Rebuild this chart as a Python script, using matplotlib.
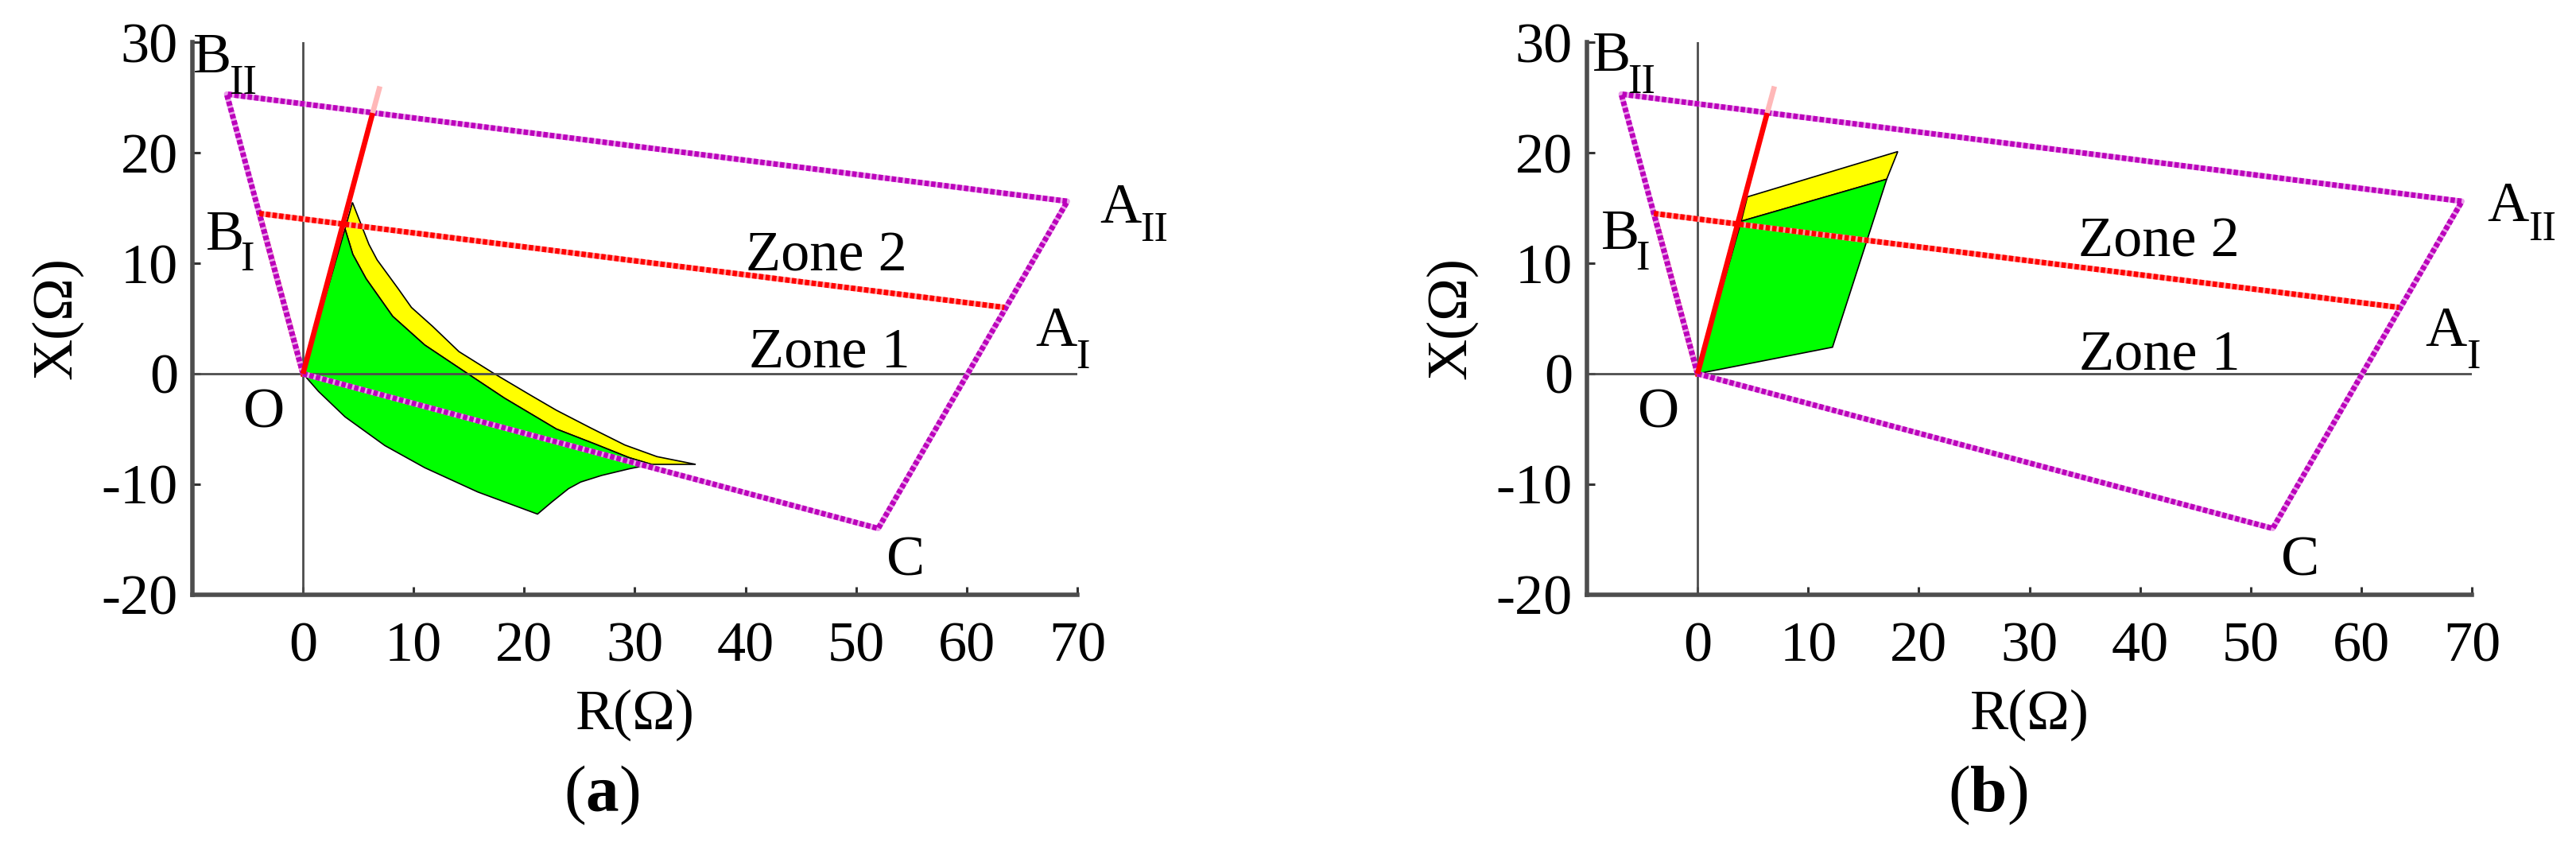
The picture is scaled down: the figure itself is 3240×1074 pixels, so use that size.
import matplotlib
matplotlib.use("Agg")
import matplotlib.pyplot as plt

plt.rcParams['font.family'] = ['Liberation Serif', 'DejaVu Serif']
plt.rcParams['mathtext.fontset'] = 'custom'
plt.rcParams['mathtext.rm'] = 'Liberation Serif'
plt.rcParams['mathtext.bf'] = 'Liberation Serif:bold'
plt.rcParams['axes.unicode_minus'] = False

# protection characteristic corners (R, X in ohm)
boundary_r = [0, 52.0, 69.1, -6.9, 0]
boundary_x = [0, -14.0, 15.6, 25.3, 0]
zone1_r = [-3.95, 63.4]
zone1_x = [14.5, 6.0]
zone1_left_r = [0, -3.95]
zone1_left_x = [0, 14.5]
reach_r = [0, 6.3]
reach_x = [0, 23.6]
reach_ext_r = [6.3, 6.95]
reach_ext_x = [23.6, 26.0]

# panel (a) trajectory regions
yellow_a_r = [4.47, 5.96, 6.7, 8.6, 9.8, 11.7, 14.1, 17.2, 20.5, 22.9, 26.0, 29.1, 32.0, 35.5,
              31.5, 29.5, 26.5, 22.9, 18.2, 14.8, 11.0, 8.1, 5.7, 4.5, 3.8]
yellow_a_x = [15.5, 11.7, 10.3, 7.7, 6.0, 4.3, 2.0, 0.06, -1.9, -3.3, -4.9, -6.45, -7.5, -8.2,
              -8.2, -7.6, -6.4, -5.0, -2.2, 0.06, 2.6, 5.2, 8.6, 10.8, 13.1]
green_a_r = [0, 3.8, 4.5, 5.7, 8.1, 11.0, 14.8, 18.2, 22.9, 26.5, 29.5, 31.5,
             29.5, 27.0, 25.1, 24.0, 22.5, 21.2, 15.8, 11.0, 7.4, 3.8, 1.4]
green_a_x = [0, 13.1, 10.8, 8.6, 5.2, 2.6, 0.06, -2.2, -5.0, -6.4, -7.6, -8.2,
             -8.6, -9.2, -9.8, -10.4, -11.6, -12.7, -10.7, -8.5, -6.5, -3.9, -1.6]

# panel (b) trajectory regions
yellow_b_r = [3.95, 17.1, 18.1, 4.5]
yellow_b_x = [13.8, 17.6, 20.1, 16.0]
green_b_r = [0, 12.2, 17.1, 3.95]
green_b_x = [0, 2.4, 17.6, 13.8]

x_ticks = [0, 10, 20, 30, 40, 50, 60, 70]
y_ticks = [-20, -10, 0, 10, 20, 30]

FS = 52
SUB = 38
PURPLE = '#bb00bb'
GRAY = '#4d4d4d'


def dotted(ax, r, x, color, light):
    ax.plot(r, x, color=light, lw=5, solid_capstyle='butt', zorder=4)
    ax.plot(r, x, color=color, lw=5, dashes=(0.8, 0.4), dash_capstyle='butt', zorder=5)


def label(ax, x, y, base, sub=None, sx=None, sy=None):
    ax.text(x, y, base, fontsize=FS, ha='left', va='baseline', clip_on=False, zorder=8)
    if sub:
        ax.text(sx, sy, sub, fontsize=SUB, ha='left', va='baseline', clip_on=False, zorder=8)


def draw_panel(ax, green_r, green_x, yellow_r, yellow_x, txt):
    ax.set_xlim(-10, 70)
    ax.set_ylim(-20, 30)
    for s in ['top', 'right']:
        ax.spines[s].set_visible(False)
    for s in ['left', 'bottom']:
        ax.spines[s].set_linewidth(4)
        ax.spines[s].set_color(GRAY)
    ax.set_xticks(x_ticks)
    ax.set_yticks(y_ticks)
    ax.tick_params(direction='in', length=7, width=2.2, color='#333333', labelsize=FS)
    ax.tick_params(axis='x', pad=24)
    ax.tick_params(axis='y', pad=13)

    ax.fill(yellow_r, yellow_x, facecolor='#ffff00', edgecolor='black', lw=1.2, zorder=2)
    ax.fill(green_r, green_x, facecolor='#00ff00', edgecolor='black', lw=1.2, zorder=2)

    ax.plot([-10, 70], [0, 0], color=GRAY, lw=2, zorder=3)
    ax.plot([0, 0], [-20, 30], color=GRAY, lw=2, zorder=3)

    ax.plot(zone1_left_r, zone1_left_x, color='#ff1010', lw=5, zorder=4)
    dotted(ax, boundary_r, boundary_x, PURPLE, '#eaa0ea')
    dotted(ax, zone1_r, zone1_x, '#ff0000', '#ffa0a0')
    ax.plot(reach_r, reach_x, color='#ff0000', lw=4.8, solid_capstyle='butt', zorder=6)
    ax.plot(reach_ext_r, reach_ext_x, color='#ffb8b8', lw=4.8, solid_capstyle='butt', zorder=6)

    for t in txt:
        label(ax, *t)
    ax.text(-3.5, -3.6, 'O', fontsize=FS, ha='center', va='center')
    ax.text(54.5, -17.0, 'C', fontsize=FS, ha='center', va='center')

    ax.text(0.5, -0.217, 'R(Ω)', fontsize=FS, ha='center', va='center', transform=ax.transAxes)
    ax.text(-0.153, 0.5, 'X(Ω)', fontsize=FS, ha='center', va='center', rotation=90,
            transform=ax.transAxes)


fig = plt.figure(figsize=(32.4, 10.74), dpi=100)
ax_a = fig.add_axes([0.07469, 0.30354, 0.34352, 0.64711])
ax_b = fig.add_axes([0.61605, 0.30354, 0.34352, 0.64711])

txt_a = [
    (-9.9, 27.3, 'B', 'II', -6.7, 25.3),
    (-8.8, 11.2, 'B', 'I', -5.7, 9.35),
    (66.2, 2.5, 'A', 'I', 69.9, 0.5),
    (72.0, 13.7, 'A', 'II', 75.7, 12.0),
    (40.0, 9.35, 'Zone 2'),
    (40.3, 0.6, 'Zone 1'),
]
txt_b = [
    (-9.5, 27.4, 'B', 'II', -6.3, 25.4),
    (-8.7, 11.3, 'B', 'I', -5.6, 9.45),
    (65.8, 2.5, 'A', 'I', 69.5, 0.5),
    (71.4, 13.8, 'A', 'II', 75.1, 12.1),
    (34.4, 10.6, 'Zone 2'),
    (34.5, 0.4, 'Zone 1'),
]

draw_panel(ax_a, green_a_r, green_a_x, yellow_a_r, yellow_a_x, txt_a)
draw_panel(ax_b, green_b_r, green_b_x, yellow_b_r, yellow_b_x, txt_b)

fig.text(757 / 3240, 1 - 1000 / 1074, r'($\mathbf{a}$)', fontsize=60, ha='center', va='center')
fig.text(2500 / 3240, 1 - 1000 / 1074, r'($\mathbf{b}$)', fontsize=60, ha='center', va='center')

fig.savefig('out.png', dpi=100)
